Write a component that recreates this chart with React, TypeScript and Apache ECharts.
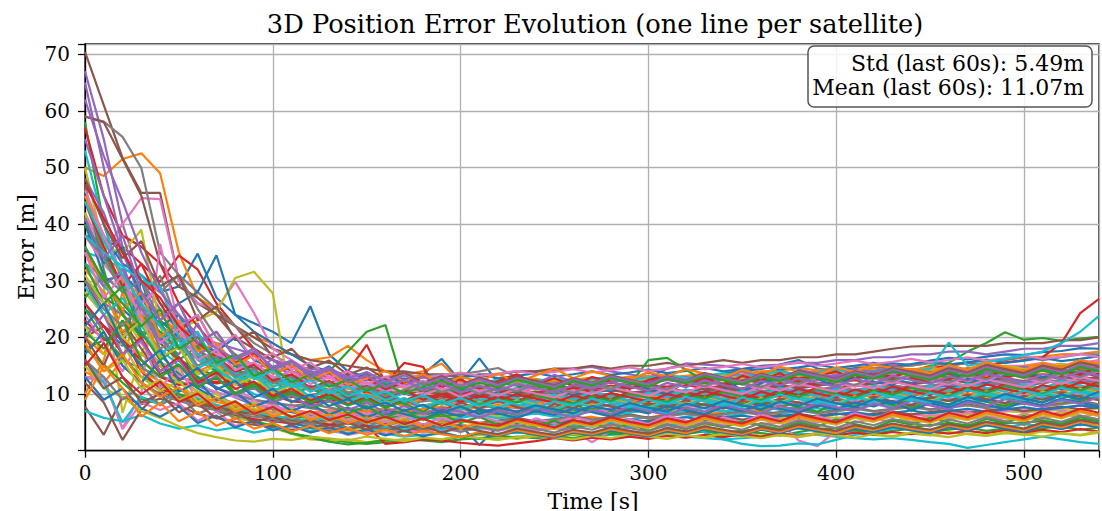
import React, { useEffect, useRef } from "react";
import * as echarts from "echarts";

const times = [0, 10, 20, 30, 40, 50, 60, 70, 80, 90, 100, 110, 120, 130, 140, 150, 160, 170, 180, 190, 200, 210, 220, 230, 240, 250, 260, 270, 280, 290, 300, 310, 320, 330, 340, 350, 360, 370, 380, 390, 400, 410, 420, 430, 440, 450, 460, 470, 480, 490, 500, 510, 520, 530, 540];

const sat00 = [45, 38, 33, 31, 28, 29, 34.8, 27, 24, 22.5, 21, 19, 25.5, 17, 14, 13, 12.5, 11.5, 13.5, 16.2, 12.2, 16.3, 12, 11.5, 11, 11.5, 12, 11.5, 12.1, 12.6, 12.2, 12.7, 13.1, 12.9, 13.6, 14.1, 14.4, 15.2, 16.0, 14.5, 14.1, 14.6, 15.1, 15.4, 15.1, 15.9, 16.4, 16.1, 16.6, 17.0, 16.9, 17.4, 17.6, 18.1, 18.0];
const sat01 = [50, 48.5, 51.5, 52.5, 49, 35, 27, 25, 22, 20, 19, 17, 16, 16.5, 18.5, 16, 14, 13.5, 14, 15.4, 12, 12.5, 12, 12.6, 12.1, 12.3, 12.7, 12.2, 12.6, 13.1, 12.6, 13.0, 13.2, 13.6, 13.1, 13.5, 14.0, 14.1, 14.6, 14.2, 14.6, 15.0, 14.6, 15.1, 15.0, 15.5, 15.2, 15.6, 16.0, 16.1, 16.5, 16.6, 17.0, 17.1, 17.5];
const sat02 = [58, 40, 30, 25, 22, 20, 17, 15, 14, 13, 12, 12.5, 13, 14, 17.5, 21, 22.2, 11, 10.5, 10, 9.5, 10, 9.5, 10, 10.5, 10.1, 10.6, 11, 10.5, 11.1, 11.5, 11.2, 11.6, 12, 11.6, 12.1, 12.5, 12.1, 12.6, 13, 13.1, 13.5, 13.2, 13.6, 14, 15, 15.5, 17.5, 19.0, 20.9, 19.6, 19.9, 19.4, 19.8, 20.1];
const sat03 = [38, 37, 36, 33, 29.8, 34.5, 32, 26, 22, 18, 16, 15, 14, 13, 14, 18.7, 12, 15.5, 14.8, 9.5, 10, 10.5, 11, 10.5, 11, 11.5, 11, 11.6, 12, 11.5, 12.1, 12.5, 12, 12.6, 13, 12.5, 13.1, 13.5, 13, 13.6, 14, 13.5, 14.1, 14.5, 14, 14.6, 15, 15.5, 15.1, 15.6, 16, 16.5, 19, 24.3, 26.8];
const sat04 = [67, 55, 40, 30, 25, 22, 20, 19, 18, 17, 16, 15, 14.5, 14, 13.5, 13, 13, 12.5, 13, 13, 13.5, 13, 13.5, 14, 14, 14.2, 14.5, 14.8, 14, 13.5, 12.8, 14.5, 15.4, 15.2, 15, 14.4, 15, 15.2, 15.5, 15.5, 16, 16, 16.5, 16.5, 17, 17, 17.5, 17.5, 17, 17.5, 18, 18, 18.5, 18.5, 19];
const sat05 = [70.4, 61, 51.7, 45.5, 45.5, 30, 26, 24, 22, 20, 18, 17, 16, 15.5, 15, 14.5, 14, 14, 13.5, 13.5, 13, 13.5, 13.5, 14, 14, 14.5, 14.5, 15, 14.5, 15, 15, 15.5, 15, 15.5, 16, 15.5, 16, 16, 16.5, 16.5, 17, 17, 17.5, 18, 18.4, 18.5, 18.5, 18.5, 18.5, 19, 19, 19, 19.5, 19.5, 20];
const sat06 = [42, 35, 40, 44.6, 44.4, 30, 26, 25, 29.8, 24.3, 18, 16, 14, 13, 12, 11.5, 11, 10.5, 11, 10.5, 11, 10.5, 10, 10.5, 11, 10.5, 10, 10.5, 11, 11.5, 11, 11.5, 12, 11.5, 12, 12.5, 12, 12.5, 13, 12.5, 13, 13.5, 13, 13.5, 14, 14, 14.5, 14, 14.5, 15, 15, 15.5, 15, 15.5, 16];
const sat07 = [59, 58.1, 55.4, 49.9, 35, 31, 28, 25, 22, 19, 17, 15, 14, 13.5, 13, 12.5, 13, 13.5, 13, 13.5, 13.5, 14, 14.6, 13, 12.5, 12, 12.5, 12, 12.5, 12, 12.5, 13, 12.5, 13, 13.5, 13, 13.5, 14, 13.5, 14, 14.5, 14, 14.5, 15, 15, 15.5, 15, 15.5, 16, 16, 16.5, 16, 16.5, 17, 17];
const sat08 = [35, 29, 6.7, 17, 25, 21.5, 23, 24.5, 30.5, 31.6, 27.8, 8, 4.5, 4, 3.8, 4, 3.5, 3.8, 4, 3.5, 3.8, 4, 4.2, 4, 4.5, 4.2, 4.5, 4.8, 4.5, 5, 4.8, 5, 5.2, 5, 5.5, 5.2, 5.5, 5.8, 5.5, 6, 5.8, 6, 6.2, 6, 6.5, 6.2, 6.5, 6.8, 6.5, 7, 6.8, 7, 7.2, 7, 7.5];
const sat09 = [35, 34, 32, 31, 26, 24, 16, 14, 12, 10, 9, 5, 4, 3.5, 3, 3.5, 3, 2.5, 2.8, 3, 2.5, 2.8, 3, 3.2, 3, 2.8, 3, 2.5, 2.8, 3, 3.2, 2.8, 2.5, 2.2, 2, 2.2, 2.5, 2.8, 3, 2.8, 2.5, 2.2, 2, 2.2, 1.9, 1.5, 1.2, 0.5, 1, 1.5, 2, 2.5, 2, 1.5, 1.2];
const sat10 = [30, 27, 25, 22, 24, 26, 28, 34.5, 24, 21, 19, 17, 15, 14, 13, 12.5, 12, 11.5, 11, 10.5, 11, 10.5, 11, 10.5, 10, 10.5, 10, 9.5, 10, 9.5, 10, 10.5, 10, 10.5, 11, 10.5, 11, 11.5, 11, 11.5, 12, 11.5, 12, 12.5, 12, 12.5, 13, 12.5, 13, 13.5, 13, 13.5, 14, 13.5, 14];
const sat11 = [14, 12, 16, 27, 22, 20, 17, 15, 13, 12, 11, 10.5, 11, 10, 9.5, 10, 9.5, 9, 9.5, 9, 8.5, 9, 8.5, 9, 9.5, 9, 9.5, 10, 9.5, 10, 10.5, 10, 10.5, 11, 10.5, 11, 11.5, 11, 11.5, 12, 12, 12.5, 12, 12.5, 13, 12.5, 13, 13.5, 13, 13.5, 14, 13.5, 14, 14.5, 14];
const sat12 = [47, 32, 20, 15, 12, 10, 9, 7, 6, 5, 4.5, 3, 2.5, 2, 1.5, 1.2, 1.5, 2, 1.8, 1.5, 2, 2.2, 2, 2.5, 2.2, 2.5, 2.8, 2.5, 3, 2.8, 3, 3.2, 3, 3.5, 3.2, 3.5, 3.8, 3.5, 4, 3.8, 4, 4.2, 4, 4.5, 4.2, 4.5, 4.8, 4.5, 5, 4.8, 5, 5.2, 5, 5.5, 5.2];
const sat13 = [57, 45, 38, 36, 33, 26, 22, 18, 15.5, 14, 13, 12, 12.5, 13, 12.5, 12, 11.5, 12, 11, 10.5, 10, 9.5, 10, 10.5, 10, 9.5, 9, 9.5, 9, 8.5, 9, 9.5, 9, 9.5, 10, 9.5, 10, 10.5, 10, 10.5, 11, 11.5, 12, 12.5, 13, 14.3, 13.5, 13.1, 13.5, 13, 13.5, 13, 13.5, 14, 13.5];
const sat14 = [65, 50, 36, 26, 20, 16, 13, 11, 10, 9, 8.5, 8, 7.5, 7, 7.5, 7, 6.5, 7, 6.5, 6, 6.5, 6, 6.5, 7, 6.5, 7, 7.5, 7, 7.5, 8, 7.5, 8, 8.5, 8, 8.5, 9, 8.5, 9, 9.5, 9, 9.5, 10, 9.5, 10, 10.5, 10, 10.5, 11, 10.5, 11, 11.5, 11, 11.5, 12, 12];
const sat15 = [59, 58, 51.5, 45, 33, 29, 27, 24, 20, 18, 16, 14, 13, 12, 11.5, 11, 10.5, 10, 10.5, 10, 9.5, 10, 9.5, 9, 9.5, 9, 9.5, 10, 9.5, 10, 10.5, 10, 10.5, 11, 10.5, 11, 11.5, 11, 11.5, 12, 12, 12.5, 12, 12.5, 13, 13, 13.5, 13, 13.5, 14, 14, 14.5, 14, 14.5, 15];
const sat16 = [13, 13, 4, 10, 36.5, 22, 18, 14, 11, 9, 8, 7, 6.5, 6, 5.5, 5, 5.5, 5, 4.5, 5, 4.5, 4, 4.5, 4, 3.5, 4, 3.5, 1.5, 3.5, 4, 4.5, 4, 4.5, 5, 4.5, 5, 4.5, 5, 5.5, 5, 5.5, 6, 5.5, 6, 6.5, 6, 6.5, 7, 6.5, 7, 7.5, 7, 7.5, 8, 8];
const sat17 = [44, 35, 28, 30, 28, 31, 25, 20, 17, 15, 13, 12, 11, 10.5, 10, 9.5, 9, 8.5, 8, 8.5, 8, 7.5, 8, 7.5, 8, 8.5, 8, 8.5, 9, 8.5, 9, 9.5, 9, 9.5, 10, 9.5, 10, 10.5, 10, 10.5, 11, 10.5, 11, 11.5, 11, 11.5, 12, 11.5, 12, 12.5, 12, 12.5, 13, 12.5, 13];
const sat18 = [50, 36, 35, 39, 22, 14, 10, 8, 6, 5, 4, 3, 2, 1.8, 2, 1.5, 1.8, 2, 2.2, 2, 2.5, 2.8, 2.4, 2.1, 2.6, 2.3, 2.9, 2.5, 2.2, 2.7, 2.4, 3.0, 2.6, 2.3, 2.8, 2.5, 3.1, 2.7, 2.4, 2.9, 2.6, 3.2, 2.8, 2.5, 3.0, 2.7, 3.3, 2.9, 2.6, 3.1, 2.8, 3.4, 3.0, 2.7, 3.2];
const sat19 = [53, 40, 30, 22, 18, 15, 12, 10, 8, 7, 6, 5.5, 5, 5.5, 5, 4.5, 4, 4.5, 4, 3.5, 4, 4.5, 4, 4.5, 5, 4.5, 5, 5.5, 5, 5.5, 6, 5.5, 6, 6.5, 6, 6.5, 7, 6.5, 7, 7.5, 7, 7.5, 8, 8.5, 8, 8.5, 9, 8.5, 9, 9.5, 9, 9.5, 10, 10.5, 10];
const sat20 = [25, 22, 18.5, 30, 20, 16.5, 13, 11.2, 9.4, 8.1, 7.3, 6.8, 6.1, 5.6, 6.4, 5.9, 6.3, 7.1, 6.5, 6.9, 7.4, 6.8, 7.2, 7.9, 7.3, 7.7, 8.4, 7.8, 8.1, 8.8, 8.2, 8.6, 9.3, 8.7, 9.1, 9.6, 9.2, 9.9, 9.4, 10.1, 10.5, 10.0, 10.6, 10.9, 10.4, 11.1, 11.5, 10.9, 11.6, 11.8, 11.3, 12.0, 12.4, 11.9, 12.6];
const sat21 = [10, 16, 28, 19, 15, 12.5, 10.4, 9.1, 8.5, 7.2, 6.1, 5.2, 4.6, 4.1, 3.6, 3.2, 3.7, 4.3, 3.4, 3.9, 4.6, 4.1, 4.9, 5.3, 4.7, 5.2, 5.6, 6.0, 5.4, 6.2, 5.8, 6.5, 7.0, 6.3, 6.9, 7.4, 7.0, 7.7, 7.3, 8.0, 8.4, 7.9, 8.6, 8.2, 8.9, 9.3, 8.8, 9.6, 9.2, 9.9, 10.3, 9.8, 10.5, 11.0, 10.6];
const sat22 = [18, 15.2, 12, 9.1, 8.3, 11, 9.2, 7.1, 6.3, 5.4, 4.2, 3.1, 2.3, 1.6, 1.1, 1.4, 1.9, 1.5, 2.2, 1.8, 2.5, 2.1, 2.7, 2.3, 3.0, 2.6, 2.2, 2.8, 3.3, 2.7, 3.1, 3.6, 3.0, 3.4, 2.9, 3.5, 3.1, 2.7, 3.3, 3.8, 3.2, 3.6, 3.0, 3.5, 3.9, 3.3, 3.7, 4.1, 3.5, 3.9, 3.4, 4.0, 4.3, 3.7, 4.1];
const sat23 = [20, 22, 19.5, 17, 15, 12.8, 12.3, 11.9, 12.5, 11.4, 10.2, 9.5, 9.8, 10.4, 11, 10.3, 9.7, 10.1, 9.2, 9.6, 8.9, 9.4, 10.1, 10.7, 10.2, 10.9, 11.3, 10.8, 11.5, 11.1, 11.7, 11.2, 11.9, 12.3, 11.8, 12.4, 12.1, 12.7, 13.0, 12.6, 13.2, 12.9, 13.5, 13.1, 13.8, 14.1, 13.7, 14.3, 14.0, 14.6, 14.2, 14.9, 15.3, 14.8, 15.4];
const sat24 = [30, 26, 24, 21, 20.5, 18.3, 16.4, 17.2, 15.1, 13.6, 12.2, 11.4, 10.8, 10.1, 9.5, 9.9, 9.3, 8.6, 9.1, 8.4, 8.9, 8.2, 8.7, 9.3, 8.8, 9.4, 9.0, 9.6, 9.1, 9.7, 10.2, 9.6, 10.1, 9.8, 10.4, 10.0, 10.6, 10.2, 10.8, 10.5, 11.0, 10.7, 11.3, 10.9, 11.5, 11.2, 11.7, 11.4, 12.0, 11.6, 12.2, 11.9, 12.5, 12.1, 12.7];
const sat25 = [7.8, 2.8, 9.5, 8.2, 9.2, 8, 6.5, 5.8, 5.1, 4.6, 4.2, 3.7, 4.1, 3.6, 3.9, 4.4, 4.0, 3.5, 3.8, 4.3, 3.9, 4.4, 4.8, 4.3, 4.7, 5.1, 4.6, 5.0, 5.4, 4.9, 5.3, 5.7, 5.2, 5.6, 6.0, 5.5, 5.9, 6.3, 5.8, 6.2, 6.6, 6.1, 6.5, 6.9, 6.4, 6.8, 7.2, 6.7, 7.1, 7.5, 7.0, 7.4, 7.8, 7.3, 7.7];
const sat26 = [12.8, 12.5, 3.8, 8.5, 7.2, 8.4, 5.3, 6.9, 4.4, 5.1, 3.6, 4.2, 3.3, 3.9, 2.8, 3.4, 3.0, 3.7, 3.2, 3.8, 3.4, 4.0, 3.5, 4.2, 3.7, 4.3, 3.9, 4.5, 4.0, 4.6, 4.2, 4.8, 4.3, 4.9, 4.5, 5.1, 4.6, 5.2, 1.8, 0.8, 3.4, 5.0, 5.6, 5.2, 5.8, 5.3, 5.9, 5.5, 6.1, 5.7, 6.3, 5.8, 6.4, 6.0, 6.6];
const sat27 = [22, 20, 16, 14.5, 13.2, 12.1, 11.4, 10.2, 9.6, 9.0, 8.4, 7.9, 8.3, 7.6, 7.1, 7.5, 6.9, 7.3, 6.8, 7.2, 6.6, 7.0, 7.4, 6.9, 7.3, 7.7, 7.2, 7.6, 8.0, 7.5, 7.9, 8.3, 7.8, 8.2, 8.6, 8.1, 8.5, 8.9, 8.4, 8.8, 9.2, 8.7, 9.1, 9.5, 9.0, 9.4, 9.8, 9.3, 9.7, 10.1, 9.6, 10.0, 10.4, 9.9, 10.3];
const sat28 = [42, 30, 24, 19, 15, 12, 10.5, 9.3, 8.1, 7.4, 6.8, 6.2, 5.9, 6.4, 5.7, 6.1, 5.5, 5.9, 6.3, 5.8, 6.2, 6.6, 6.0, 6.4, 6.8, 6.3, 6.7, 7.1, 6.5, 6.9, 7.3, 6.8, 7.2, 7.6, 7.0, 7.4, 7.8, 7.3, 7.7, 8.1, 7.5, 7.9, 8.3, 7.8, 8.2, 8.6, 8.0, 8.4, 8.8, 8.3, 8.7, 9.1, 8.5, 8.9, 9.3];
const sat29 = [7, 5.8, 5.2, 6.3, 4.8, 3.9, 4.5, 3.6, 4.1, 3.2, 3.8, 4.4, 3.5, 4.0, 3.1, 3.6, 4.2, 3.7, 4.3, 3.8, 4.4, 3.9, 4.5, 4.0, 4.6, 4.1, 4.7, 4.2, 4.8, 4.3, 4.9, 4.4, 5.0, 3.2, 2.0, 1.2, 0.8, 0.9, 1.3, 1.1, 1.9, 2.8, 3.3, 3.9, 4.1, 3.7, 4.3, 3.9, 4.5, 4.1, 4.7, 4.3, 4.9, 4.5, 5.1];
const sat30 = [40, 31, 24, 20.5, 17, 13.5, 11, 9.2, 7.6, 6.5, 5.4, 4.8, 4.2, 4.6, 4.0, 4.4, 3.8, 4.2, 4.7, 4.1, 4.5, 1.0, 4.3, 4.8, 4.4, 4.9, 5.3, 4.8, 5.2, 5.6, 5.1, 5.5, 5.9, 5.4, 5.8, 6.2, 5.7, 6.1, 6.5, 6.0, 6.4, 6.8, 6.3, 6.7, 7.1, 6.6, 7.0, 7.4, 6.9, 7.3, 7.7, 7.2, 7.6, 8.0, 7.5];
const sat31 = [45, 38, 30, 27.5, 24, 20.5, 18.6, 17.2, 15.9, 14.8, 13.9, 13.2, 12.8, 12.1, 12.6, 11.9, 12.3, 11.7, 12.2, 11.5, 11.9, 12.4, 11.8, 12.2, 12.7, 12.1, 12.5, 12.9, 12.4, 12.8, 13.2, 12.7, 13.1, 13.5, 13.0, 13.4, 13.8, 13.3, 13.7, 14.1, 13.6, 14.0, 14.4, 13.9, 14.3, 14.7, 14.2, 14.6, 15.0, 14.5, 14.9, 15.3, 14.8, 15.2, 15.6];
const sat32 = [25, 20, 16.5, 13, 11.5, 9.8, 8.7, 7.9, 7.2, 6.6, 6.1, 5.7, 6.2, 5.5, 5.9, 6.4, 5.8, 6.2, 6.7, 6.1, 6.5, 7.0, 6.4, 6.8, 7.3, 6.7, 7.1, 7.6, 7.0, 7.4, 7.9, 7.3, 7.7, 8.2, 7.6, 8.0, 8.5, 7.9, 8.3, 8.8, 8.2, 8.6, 9.1, 8.5, 8.9, 9.4, 8.8, 9.2, 9.7, 9.1, 9.5, 10.0, 9.4, 9.8, 10.3];
const sat33 = [23, 19.5, 20.5, 14, 11, 9.5, 8.2, 7.5, 6.4, 5.6, 5.2, 4.8, 5.3, 4.6, 5.0, 4.4, 1.2, 1.5, 2.0, 1.8, 1.4, 1.1, 0.9, 1.3, 1.7, 2.2, 1.8, 2.3, 2.0, 2.5, 2.1, 2.6, 2.3, 2.8, 2.4, 2.9, 2.5, 3.0, 2.6, 3.1, 2.7, 3.2, 2.8, 3.3, 2.9, 3.4, 3.0, 3.5, 3.1, 3.6, 3.2, 3.7, 3.3, 3.8, 3.4];
const sat34 = [48, 42, 33, 24, 19.5, 17, 22.5, 16, 13.5, 12, 10.5, 9.8, 9.1, 8.7, 8.2, 8.6, 8.0, 8.4, 7.9, 8.3, 7.7, 8.1, 8.6, 8.0, 8.5, 8.9, 8.4, 8.8, 9.2, 8.7, 9.1, 9.5, 9.0, 9.4, 9.8, 9.3, 9.7, 10.1, 9.6, 10.0, 10.4, 9.9, 10.3, 10.7, 10.2, 10.6, 11.0, 10.5, 10.9, 11.3, 10.8, 11.2, 11.6, 11.1, 11.5];
const sat35 = [12, 8.5, 1.9, 7.2, 10.5, 9.1, 8.3, 7.6, 6.9, 6.4, 5.8, 5.3, 4.9, 5.4, 4.8, 5.2, 4.7, 5.1, 4.6, 5.0, 5.5, 4.9, 5.3, 5.8, 5.2, 5.6, 6.1, 5.5, 5.9, 6.4, 5.8, 6.2, 6.7, 6.1, 6.5, 7.0, 6.4, 6.8, 7.3, 6.7, 7.1, 7.6, 7.0, 7.4, 7.9, 7.3, 7.7, 8.2, 7.6, 8.0, 8.5, 7.9, 8.3, 8.8, 8.2];
const sat36 = [28, 24, 21, 19, 15.5, 13.2, 11.6, 10.3, 9.5, 8.4, 7.6, 7.1, 6.5, 6.9, 6.2, 6.6, 6.1, 6.5, 6.0, 6.4, 6.8, 6.3, 6.7, 7.1, 6.6, 7.0, 7.4, 6.9, 7.3, 7.7, 7.2, 7.6, 8.0, 7.5, 7.9, 8.3, 7.8, 8.2, 8.6, 8.1, 8.5, 8.9, 8.4, 8.8, 9.2, 8.7, 9.1, 9.5, 9.0, 9.4, 9.8, 9.3, 9.7, 10.1, 9.6];
const sat37 = [33, 30.9, 28, 27, 30.9, 22, 18, 15.5, 13.4, 11.8, 10.6, 9.9, 9.2, 8.7, 9.1, 8.5, 8.9, 8.3, 8.7, 9.2, 8.6, 9.0, 9.5, 8.9, 9.3, 9.8, 9.2, 9.6, 10.1, 9.5, 9.9, 10.4, 9.8, 10.2, 10.7, 10.1, 10.5, 11.0, 10.4, 10.8, 11.3, 10.7, 11.1, 11.6, 11.0, 11.4, 11.9, 11.3, 11.7, 12.2, 11.6, 12.0, 12.5, 11.9, 12.3];
const sat38 = [15, 11, 9.5, 7, 5.8, 4.3, 3.1, 2.4, 1.8, 1.6, 2.1, 1.9, 2.4, 2.2, 1.8, 2.5, 2.1, 1.7, 2.3, 2.0, 2.6, 2.2, 1.9, 2.4, 2.8, 2.3, 2.0, 2.6, 2.2, 2.9, 2.5, 2.1, 2.7, 2.4, 3.0, 2.6, 2.2, 2.8, 2.5, 3.1, 2.7, 2.3, 2.9, 2.6, 3.2, 2.8, 2.4, 3.0, 2.7, 3.3, 2.9, 2.5, 3.1, 2.8, 3.4];
const sat39 = [16, 12, 5, 9.5, 8.2, 10.8, 9.3, 8.1, 7.4, 6.8, 6.2, 5.7, 5.3, 5.8, 5.2, 5.6, 5.1, 5.5, 6.0, 5.4, 5.8, 6.3, 5.7, 6.1, 6.6, 6.0, 6.4, 6.9, 6.3, 6.7, 7.2, 6.6, 7.0, 7.5, 6.9, 7.3, 7.8, 7.2, 7.6, 8.1, 7.5, 7.9, 8.4, 7.8, 8.2, 8.7, 8.1, 8.5, 9.0, 8.4, 8.8, 9.3, 8.7, 9.1, 9.6];
const sat40 = [36, 30, 31, 28, 23, 20, 18.5, 16.7, 15.2, 14.6, 13.9, 13.1, 12.5, 13.0, 12.4, 12.8, 12.2, 12.6, 13.1, 12.5, 12.9, 13.4, 12.8, 13.2, 13.7, 13.1, 13.5, 14.0, 13.4, 13.8, 14.3, 13.7, 14.1, 14.6, 14.0, 14.4, 14.9, 14.3, 14.7, 15.2, 14.6, 15.0, 15.5, 14.9, 15.3, 15.8, 15.2, 15.6, 16.1, 15.5, 15.9, 16.4, 15.8, 16.2, 16.7];
const sat41 = [20, 17, 25, 14, 12.2, 10.9, 9.8, 8.6, 7.9, 7.1, 6.8, 7.3, 6.7, 7.2, 6.5, 7.0, 7.5, 6.9, 7.4, 7.8, 7.2, 7.7, 8.1, 7.6, 8.0, 8.4, 7.9, 8.3, 8.7, 8.2, 8.6, 9.0, 8.5, 8.9, 9.3, 8.8, 9.2, 9.6, 9.1, 9.5, 9.9, 9.4, 9.8, 10.2, 9.7, 10.1, 10.5, 10.0, 10.4, 10.8, 10.3, 10.7, 11.1, 10.6, 11.0];
const sat42 = [40, 35, 29, 24, 21, 18, 16.5, 15.2, 14.3, 13.4, 12.5, 11.8, 11.2, 10.6, 10.2, 10.7, 10.1, 10.5, 10.9, 10.3, 10.7, 11.1, 10.6, 11.0, 11.4, 10.9, 11.3, 11.7, 11.2, 11.6, 16.0, 16.4, 14.3, 12.3, 11.8, 12.2, 12.6, 12.1, 12.5, 12.9, 12.4, 12.8, 13.2, 12.7, 13.1, 13.5, 13.0, 13.4, 13.8, 13.3, 13.7, 14.1, 13.6, 14.0, 14.4];
const sat43 = [30, 24, 19, 16, 13, 11.6, 12.0, 12.2, 11.8, 11.0, 9.8, 8.7, 8.5, 8.8, 9.3, 9.0, 9.6, 10.1, 9.5, 9.9, 10.4, 9.8, 10.3, 10.7, 10.1, 10.6, 11.0, 10.4, 10.9, 11.3, 10.7, 11.2, 11.6, 11.0, 11.5, 11.9, 11.3, 11.8, 12.2, 11.6, 12.1, 12.5, 11.9, 12.4, 12.8, 12.2, 12.7, 13.1, 12.5, 13.0, 13.4, 12.8, 13.3, 13.7, 13.1];
const sat44 = [55, 45, 35, 27, 22, 19.5, 17, 15.5, 14.1, 13.3, 12.6, 11.9, 11.4, 10.8, 11.3, 10.6, 11.0, 11.5, 10.9, 11.3, 11.8, 11.2, 11.6, 12.1, 11.5, 11.9, 12.4, 11.8, 12.2, 12.7, 12.1, 12.5, 13.0, 12.4, 12.8, 13.3, 12.7, 13.1, 13.6, 13.0, 13.4, 13.9, 13.3, 13.7, 14.2, 13.6, 14.0, 14.5, 13.9, 14.3, 14.8, 14.2, 14.6, 15.1, 14.5];
const sat45 = [18, 19.5, 21, 23, 19, 16, 14.5, 13.2, 12.1, 11.4, 10.8, 10.2, 9.7, 9.2, 9.6, 9.1, 9.5, 9.0, 9.4, 9.8, 9.3, 9.7, 10.1, 9.6, 10.0, 10.4, 9.9, 10.3, 10.7, 10.2, 10.6, 11.0, 10.5, 10.9, 11.3, 10.8, 11.2, 11.6, 11.1, 11.5, 11.9, 11.4, 11.8, 12.2, 11.7, 12.1, 12.5, 12.0, 12.4, 12.8, 12.3, 12.7, 13.1, 12.6, 13.0];
const sat46 = [38, 33, 29, 24, 25, 21, 18.5, 17, 16.1, 15.3, 14.5, 13.8, 13.2, 12.7, 13.2, 12.6, 13.0, 13.5, 12.9, 13.3, 13.8, 13.2, 13.6, 14.1, 13.5, 13.9, 14.4, 13.8, 14.2, 14.7, 14.1, 14.5, 15.0, 14.4, 14.8, 15.3, 14.7, 15.1, 15.6, 15.0, 15.4, 15.9, 15.3, 15.7, 16.2, 15.6, 16.0, 16.5, 15.9, 16.3, 16.8, 16.2, 16.6, 17.1, 16.5];
const sat47 = [26, 21, 15, 12, 10, 8.8, 7.9, 7.1, 6.5, 6.0, 5.6, 5.1, 4.8, 5.2, 4.7, 5.1, 4.6, 5.0, 4.5, 4.9, 5.3, 4.8, 5.2, 5.6, 5.1, 5.5, 5.9, 5.4, 5.8, 6.2, 5.7, 6.1, 6.5, 6.0, 6.4, 6.8, 6.3, 6.7, 7.1, 6.6, 7.0, 7.4, 6.9, 7.3, 7.7, 7.2, 7.6, 8.0, 7.5, 7.9, 8.3, 7.8, 8.2, 8.6, 8.1];
const sat48 = [28, 24, 20, 17, 15.5, 14.6, 13.8, 13.1, 12.5, 12.0, 11.6, 11.2, 10.9, 11.4, 10.8, 11.2, 11.7, 11.1, 11.5, 12.0, 11.4, 11.8, 12.3, 11.7, 12.1, 12.6, 12.0, 12.4, 12.9, 12.3, 12.7, 13.2, 12.6, 13.0, 13.5, 12.9, 13.3, 13.8, 13.2, 13.6, 14.1, 13.5, 13.9, 14.4, 13.8, 14.2, 14.7, 14.1, 14.5, 15.0, 14.4, 14.8, 15.3, 14.7, 15.1];
const sat49 = [33, 29, 26, 23, 20.5, 18, 16.2, 14.8, 13.7, 12.9, 12.2, 11.6, 11.1, 11.6, 11.0, 11.4, 11.9, 11.3, 11.7, 12.2, 11.6, 12.0, 12.5, 11.9, 12.3, 12.8, 12.2, 12.6, 13.1, 12.5, 12.9, 13.4, 12.8, 13.2, 13.7, 13.1, 13.5, 14.0, 13.4, 13.8, 14.3, 13.7, 14.1, 14.6, 14.0, 14.4, 19.1, 15.0, 15.6, 16.2, 16.9, 17.5, 19.0, 21.0, 23.8];
const sat50 = [41, 33, 36, 27, 22, 24, 19, 17.5, 20, 16, 14.5, 15.8, 13.2, 14.9, 12.1, 13.6, 11.4, 12.8, 10.7, 12.3, 11.1, 9.8, 11.6, 10.2, 12.4, 10.9, 9.7, 11.8, 10.5, 12.1, 11.0, 9.9, 12.3, 11.2, 12.8, 10.6, 11.9, 13.1, 11.5, 12.7, 11.3, 13.4, 12.2, 11.6, 13.5, 12.4, 13.9, 12.8, 11.9, 13.6, 14.2, 12.9, 14.4, 13.3, 14.8];
const sat51 = [32, 28, 21, 24, 17, 19.5, 14, 15.5, 12, 13.8, 10.5, 11.9, 9.4, 10.8, 8.7, 10.1, 9.0, 7.8, 9.3, 8.1, 9.6, 8.4, 7.5, 9.0, 8.2, 9.7, 8.6, 7.9, 9.4, 8.3, 9.9, 8.8, 10.2, 9.1, 8.4, 10.0, 9.3, 10.7, 9.5, 8.9, 10.4, 9.8, 11.2, 10.1, 9.6, 11.0, 10.3, 11.6, 10.5, 9.9, 11.4, 10.8, 12.0, 11.1, 10.6];
const sat52 = [27, 31, 24, 20, 23, 16, 18.5, 13.5, 15, 11.2, 12.6, 9.8, 11.3, 8.9, 10.2, 7.6, 9.1, 8.3, 6.9, 8.6, 7.4, 8.8, 7.1, 6.3, 7.9, 6.8, 8.2, 7.0, 6.1, 7.7, 6.6, 8.0, 7.2, 6.5, 7.8, 8.4, 7.1, 8.7, 7.6, 6.9, 8.3, 7.8, 9.0, 8.1, 7.4, 8.9, 8.2, 9.4, 8.6, 7.9, 9.2, 8.5, 9.8, 8.9, 9.4];
const sat53 = [44, 36, 29, 33, 26, 21, 24, 18, 15.5, 17.2, 13.6, 14.9, 12.4, 13.8, 11.5, 12.9, 10.8, 12.1, 13.4, 11.2, 12.6, 10.9, 12.3, 13.5, 11.7, 12.8, 11.4, 13.0, 12.2, 10.9, 12.5, 13.3, 11.8, 12.9, 11.6, 13.2, 12.4, 13.7, 12.0, 13.1, 14.0, 12.6, 13.8, 12.9, 14.3, 13.2, 14.6, 13.5, 12.8, 14.4, 13.7, 15.0, 14.1, 13.4, 14.9];
const sat54 = [36, 29, 32, 25, 20, 22.5, 17, 18.8, 15.4, 13.9, 16.2, 12.8, 14.1, 11.9, 13.3, 10.8, 12.5, 11.4, 13.0, 11.8, 10.9, 12.6, 11.3, 12.9, 11.7, 13.4, 12.1, 11.2, 13.1, 12.4, 13.8, 12.6, 11.9, 13.5, 12.7, 14.0, 13.2, 12.5, 14.3, 13.6, 12.9, 14.5, 13.8, 15.1, 14.0, 13.3, 14.8, 14.2, 15.4, 14.6, 13.9, 15.3, 14.7, 16.0, 15.2];
const sat55 = [20, 15, 23, 18, 13.5, 15.2, 11.4, 12.9, 10.1, 11.6, 9.3, 10.5, 8.7, 9.9, 8.1, 9.4, 7.6, 8.9, 7.9, 7.1, 8.5, 7.4, 8.8, 7.7, 6.9, 8.2, 7.5, 8.7, 7.8, 7.0, 8.4, 7.6, 8.9, 8.1, 7.4, 8.8, 8.0, 9.2, 8.5, 7.7, 9.0, 8.3, 9.5, 8.7, 8.0, 9.4, 8.8, 9.9, 9.1, 8.4, 9.7, 9.0, 10.2, 9.5, 8.9];
const sat56 = [24, 19, 14, 20, 11, 15, 8.5, 10.5, 7.2, 9.0, 6.4, 7.8, 5.9, 7.1, 5.3, 6.6, 5.0, 6.2, 4.6, 5.8, 4.9, 6.1, 5.2, 4.4, 5.7, 4.8, 6.0, 5.1, 4.3, 5.6, 4.7, 6.2, 5.3, 4.6, 5.9, 5.0, 6.4, 5.4, 4.8, 6.1, 5.2, 6.6, 5.7, 6.9, 5.0, 6.3, 5.5, 6.8, 5.9, 5.2, 6.6, 5.8, 7.0, 6.2, 5.5];
const sat57 = [38, 34, 28, 30, 23, 26, 19, 21, 16.5, 18, 14.2, 15.6, 13.1, 14.4, 12.0, 13.3, 11.2, 12.5, 10.6, 11.9, 10.2, 11.5, 9.8, 11.0, 9.5, 10.7, 9.1, 10.4, 9.7, 8.9, 10.3, 9.4, 10.8, 9.6, 8.8, 10.1, 9.3, 10.6, 9.8, 9.0, 10.5, 9.7, 11.0, 10.2, 9.5, 10.9, 10.1, 11.3, 10.6, 9.9, 11.2, 10.4, 11.7, 10.9, 10.3];
const sat58 = [22, 17, 19, 13, 10.5, 12.4, 8.6, 10.1, 7.3, 8.5, 6.2, 7.4, 5.5, 6.7, 4.9, 6.0, 4.5, 5.6, 4.2, 5.1, 3.9, 4.8, 4.3, 3.7, 4.9, 4.1, 5.3, 4.5, 3.9, 5.0, 4.4, 5.6, 4.8, 4.2, 5.4, 4.7, 5.9, 5.1, 4.5, 5.7, 5.0, 6.1, 5.4, 6.5, 4.8, 6.0, 5.3, 6.4, 5.7, 5.1, 6.3, 5.6, 6.7, 6.0, 5.4];
const sat59 = [29, 24, 27, 21, 17, 19.5, 14.5, 16.3, 12.8, 14.0, 11.3, 12.6, 10.4, 11.7, 9.6, 10.9, 8.9, 10.2, 9.3, 8.4, 9.8, 8.8, 10.1, 9.2, 8.5, 9.9, 9.0, 10.4, 9.6, 8.8, 10.2, 9.5, 10.8, 9.9, 9.1, 10.6, 9.8, 11.1, 10.3, 9.6, 10.9, 10.2, 11.5, 10.7, 10.0, 11.4, 10.6, 11.9, 11.1, 10.4, 11.8, 11.0, 12.3, 11.5, 10.9];
const sat60 = [17, 21, 15, 12, 16, 10.4, 12.2, 8.9, 10.3, 7.8, 9.1, 7.0, 8.3, 6.4, 7.6, 5.9, 7.2, 6.5, 5.6, 6.9, 6.1, 7.3, 6.6, 5.8, 7.0, 6.3, 7.5, 6.8, 6.0, 7.3, 6.6, 7.9, 7.1, 6.4, 7.7, 7.0, 8.2, 7.4, 6.7, 8.0, 7.3, 8.5, 7.8, 8.8, 7.1, 8.4, 7.6, 8.9, 8.1, 7.4, 8.7, 8.0, 9.2, 8.5, 7.8];
const sat61 = [35, 30, 25, 28, 20, 23, 17.5, 19, 15.2, 16.8, 13.6, 15.0, 12.4, 13.9, 11.6, 12.8, 14.1, 12.2, 13.5, 11.8, 13.0, 12.3, 13.6, 12.0, 13.3, 14.5, 12.8, 14.0, 13.2, 12.5, 13.9, 13.1, 14.4, 13.6, 12.9, 14.3, 13.5, 14.8, 14.0, 13.3, 14.7, 13.9, 15.2, 14.6, 14.4, 13.7, 15.1, 14.3, 15.6, 14.8, 14.1, 15.5, 14.7, 16.0, 15.3];
const sat62 = [33, 26, 29, 21, 16, 18.5, 12.5, 14.3, 10.1, 11.8, 8.6, 9.9, 7.5, 8.8, 6.6, 7.9, 5.9, 7.2, 5.4, 6.5, 4.9, 6.0, 4.5, 5.6, 4.2, 5.3, 3.9, 5.0, 3.7, 4.8, 3.5, 4.6, 3.8, 4.9, 4.1, 5.2, 4.4, 3.8, 5.0, 4.3, 5.5, 4.7, 4.0, 5.3, 4.6, 5.8, 5.0, 4.3, 5.6, 4.9, 6.1, 5.3, 4.7, 5.9, 5.2];
const sat63 = [26, 22, 17, 20, 14, 16.5, 12, 13.8, 10.9, 12.2, 9.6, 11.0, 8.8, 10.1, 8.2, 9.5, 7.7, 8.9, 10.0, 8.5, 9.7, 8.3, 9.6, 8.7, 10.2, 9.1, 8.4, 9.9, 9.0, 10.5, 9.4, 8.8, 10.3, 9.5, 10.8, 9.9, 9.2, 10.7, 9.8, 11.2, 10.3, 9.6, 11.0, 10.2, 11.5, 10.6, 9.9, 11.3, 10.5, 11.8, 11.0, 10.3, 11.7, 10.9, 12.2];
const sat64 = [20, 24, 17, 19.5, 14, 16, 11.5, 13.2, 9.8, 11.1, 8.5, 9.7, 7.8, 8.9, 7.2, 8.4, 6.8, 7.9, 6.5, 7.6, 6.9, 5.8, 7.1, 6.4, 7.5, 6.7, 5.9, 7.2, 6.5, 7.8, 7.0, 6.3, 7.6, 6.9, 8.1, 7.3, 6.6, 7.9, 7.2, 8.4, 7.7, 7.0, 8.3, 7.5, 8.8, 8.0, 7.3, 8.6, 7.9, 9.1, 8.4, 7.7, 9.0, 8.3, 9.5];
const sat65 = [48, 40, 34, 37, 29, 31, 23, 25.5, 19.5, 21, 16.5, 18.0, 14.6, 15.9, 13.4, 14.7, 12.6, 13.8, 12.0, 13.2, 11.6, 12.9, 11.9, 13.1, 12.3, 11.5, 12.8, 12.0, 13.3, 12.5, 11.8, 13.1, 12.4, 13.7, 12.9, 12.2, 13.6, 12.8, 14.1, 13.4, 12.7, 14.0, 13.3, 14.6, 13.9, 13.2, 14.5, 13.8, 15.1, 14.4, 13.7, 15.0, 14.3, 15.6, 14.9];
const sat66 = [46, 38, 31, 26, 29, 22, 24, 18, 20.5, 16, 17.2, 14.3, 15.6, 12.9, 14.0, 11.8, 13.1, 11.2, 12.4, 10.7, 11.9, 10.3, 11.6, 10.6, 12.0, 11.1, 10.2, 11.7, 10.8, 12.2, 11.3, 10.5, 12.0, 11.2, 12.6, 11.7, 10.9, 12.4, 11.5, 12.9, 12.0, 11.3, 12.8, 11.9, 13.3, 12.4, 11.7, 13.1, 12.3, 13.7, 12.8, 12.1, 13.6, 12.7, 14.1];
const sat67 = [16, 13, 9, 11.5, 8, 9.8, 6.5, 7.9, 5.6, 6.8, 4.9, 6.0, 4.4, 5.5, 4.0, 5.1, 3.7, 4.8, 3.5, 4.4, 3.3, 4.2, 3.6, 4.5, 3.9, 3.2, 4.3, 3.7, 4.7, 4.0, 3.4, 4.6, 3.9, 5.0, 4.3, 3.7, 4.9, 4.2, 5.3, 4.6, 4.0, 5.2, 4.5, 5.6, 4.9, 4.3, 5.5, 4.8, 5.9, 5.2, 4.6, 5.8, 5.1, 6.2, 5.5];
const sat68 = [31, 26, 20, 23, 16.5, 18.2, 13.4, 15.1, 11.6, 13.0, 10.2, 11.5, 9.4, 10.6, 8.7, 9.9, 8.2, 9.3, 7.8, 8.9, 7.4, 8.6, 7.7, 8.9, 8.1, 7.3, 8.6, 7.8, 9.0, 8.3, 7.6, 8.9, 8.2, 9.4, 8.6, 7.9, 9.3, 8.5, 9.7, 9.0, 8.3, 9.6, 8.9, 10.1, 9.4, 8.7, 10.0, 9.3, 10.5, 9.8, 9.1, 10.4, 9.7, 10.9, 10.2];
const sat69 = [38, 35, 32.5, 30, 29, 20.1, 17, 14.5, 12.2, 13.4, 10.6, 11.8, 9.5, 10.7, 8.8, 9.9, 8.2, 9.3, 7.7, 8.8, 7.3, 8.4, 7.6, 8.7, 7.9, 7.2, 8.5, 7.7, 8.9, 8.1, 7.4, 8.8, 8.0, 9.2, 8.4, 7.7, 9.1, 8.3, 9.5, 8.8, 8.1, 9.4, 8.7, 9.9, 9.2, 8.5, 9.8, 9.1, 10.3, 9.6, 8.9, 10.2, 9.5, 10.7, 10.0];
const sat70 = [13, 9, 11, 7.5, 6, 7.8, 4.9, 6.2, 4.1, 5.3, 3.6, 4.5, 3.2, 4.1, 2.9, 3.8, 2.7, 3.5, 2.5, 3.3, 2.4, 3.1, 2.6, 3.4, 2.8, 2.3, 3.2, 2.7, 3.6, 3.0, 2.5, 3.4, 2.9, 3.8, 3.2, 2.7, 3.7, 3.1, 4.0, 3.4, 2.9, 3.9, 3.3, 4.2, 3.6, 3.1, 4.1, 3.5, 4.5, 3.9, 3.3, 4.4, 3.8, 4.7, 4.1];
const sat71 = [9, 15, 11, 6, 8.5, 5.2, 6.9, 4.4, 5.8, 3.9, 4.9, 3.4, 4.4, 3.1, 4.0, 2.8, 3.7, 2.6, 3.5, 2.9, 2.4, 3.3, 2.7, 3.6, 3.0, 2.5, 3.4, 2.9, 3.8, 3.2, 2.7, 3.7, 3.1, 4.0, 3.4, 2.9, 3.9, 3.3, 4.3, 3.7, 3.1, 4.2, 3.6, 4.5, 3.9, 3.4, 4.4, 3.8, 4.8, 4.2, 3.6, 4.7, 4.1, 5.1, 4.4];
const sat72 = [21, 18, 23, 16, 13, 15.2, 11.3, 12.9, 10.0, 11.4, 9.1, 10.3, 8.5, 9.6, 8.0, 9.1, 7.6, 8.7, 9.8, 8.3, 9.4, 8.1, 9.2, 8.5, 9.8, 9.0, 8.3, 9.6, 8.8, 10.1, 9.3, 8.6, 10.0, 9.2, 10.4, 9.6, 8.9, 10.3, 9.5, 10.8, 10.0, 9.3, 10.7, 9.9, 11.1, 10.3, 9.6, 11.0, 10.2, 11.5, 10.7, 10.0, 11.4, 10.6, 11.9];
const sat73 = [47, 41, 35, 30, 27, 22, 19, 16.5, 14, 15.2, 12.3, 13.5, 11.1, 12.3, 10.2, 11.4, 9.5, 10.7, 9.0, 10.1, 8.6, 9.8, 8.9, 10.0, 9.2, 8.5, 9.7, 9.0, 10.2, 9.4, 8.7, 10.0, 9.3, 10.5, 9.7, 9.0, 10.4, 9.6, 10.9, 10.1, 9.4, 10.8, 10.0, 11.3, 10.5, 9.8, 11.2, 10.4, 11.7, 10.9, 10.2, 11.6, 10.8, 12.1, 11.3];
const sat74 = [62, 52, 44, 35, 28, 24, 20.5, 18, 16.2, 17.5, 14.8, 15.9, 13.6, 14.7, 12.8, 13.9, 12.2, 13.3, 11.7, 12.9, 11.4, 12.6, 11.6, 12.8, 12.0, 11.3, 12.6, 11.9, 13.1, 12.4, 11.7, 13.0, 12.3, 13.5, 12.8, 12.1, 13.4, 12.7, 13.9, 13.2, 12.5, 13.8, 13.1, 14.3, 13.6, 12.9, 14.2, 13.5, 14.7, 14.0, 13.3, 14.6, 13.9, 15.1, 14.4];
const sat75 = [16, 11, 13, 8.5, 10, 6.8, 8.3, 5.7, 7.0, 4.9, 6.1, 4.5, 5.5, 4.0, 5.0, 3.7, 4.7, 3.4, 4.4, 3.2, 4.2, 3.5, 2.9, 3.9, 3.3, 2.8, 3.7, 3.2, 4.1, 3.5, 3.0, 4.0, 3.4, 4.3, 3.7, 3.2, 4.2, 3.6, 4.6, 4.0, 3.5, 4.5, 3.9, 4.8, 4.2, 3.7, 4.7, 4.1, 5.1, 4.5, 3.9, 5.0, 4.4, 5.4, 4.8];
const sat76 = [35, 27, 31, 23, 19, 21.5, 16, 17.8, 14.2, 15.6, 12.9, 14.0, 11.8, 13.0, 11.0, 12.1, 10.4, 11.5, 9.9, 11.0, 9.5, 10.6, 9.7, 10.9, 10.1, 9.4, 10.7, 10.0, 11.2, 10.4, 9.7, 11.0, 10.3, 11.5, 10.7, 10.0, 11.4, 10.6, 11.8, 11.1, 10.4, 11.7, 11.0, 12.2, 11.5, 10.8, 12.1, 11.4, 12.6, 11.9, 11.2, 12.5, 11.8, 13.0, 12.3];
const sat77 = [30, 25, 22, 26, 18, 20, 15, 16.6, 13.1, 14.5, 11.9, 13.0, 10.9, 12.0, 10.2, 11.2, 9.6, 10.7, 12.1, 10.3, 11.5, 10.0, 11.3, 10.5, 11.8, 11.0, 10.2, 11.6, 10.9, 12.3, 11.5, 10.8, 12.2, 11.4, 12.7, 11.9, 11.2, 12.6, 11.8, 13.1, 12.3, 11.6, 13.0, 12.2, 13.5, 12.7, 12.0, 13.4, 12.6, 13.9, 13.1, 12.4, 13.8, 13.0, 14.3];
const sat78 = [19, 14, 16, 11, 12.5, 8.9, 10.4, 7.5, 8.8, 6.4, 7.6, 5.8, 6.9, 5.2, 6.3, 4.8, 5.9, 4.5, 5.6, 4.3, 5.3, 4.6, 4.0, 5.1, 4.4, 3.8, 4.9, 4.3, 5.3, 4.6, 4.0, 5.2, 4.5, 5.6, 4.9, 4.3, 5.5, 4.8, 5.9, 5.2, 4.6, 5.8, 5.1, 6.2, 5.5, 4.9, 6.1, 5.4, 6.5, 5.8, 5.2, 6.4, 5.7, 6.8, 6.1];
const sat79 = [44, 37, 31, 26, 22, 18.5, 21, 15, 17, 12.6, 14.1, 11.2, 12.5, 10.1, 11.4, 9.3, 10.5, 8.7, 9.8, 8.2, 9.3, 7.9, 9.0, 8.2, 7.5, 8.7, 8.0, 9.2, 8.4, 7.7, 9.0, 8.3, 9.5, 8.7, 8.0, 9.4, 8.6, 9.9, 9.1, 8.4, 9.8, 9.0, 10.3, 9.5, 8.8, 10.2, 9.4, 10.7, 9.9, 9.2, 10.6, 9.8, 11.1, 10.3, 9.6];
const sat80 = [22, 26, 19, 15, 17.8, 12.4, 14.6, 10.8, 12.3, 9.4, 10.9, 8.6, 9.9, 7.9, 9.1, 7.4, 8.5, 7.0, 8.1, 6.7, 7.8, 6.5, 7.6, 6.9, 8.0, 7.3, 6.6, 7.9, 7.2, 8.4, 7.6, 6.9, 8.3, 7.5, 8.8, 8.0, 7.3, 8.7, 7.9, 9.2, 8.4, 7.7, 9.1, 8.3, 9.6, 8.8, 8.1, 9.5, 8.7, 10.0, 9.2, 8.5, 9.9, 9.1, 10.4];
const sat81 = [19, 14, 17, 12, 9.5, 11.2, 8.0, 9.4, 6.9, 8.1, 6.0, 7.1, 5.4, 6.4, 4.9, 5.9, 4.5, 5.5, 4.2, 5.2, 4.0, 4.9, 4.3, 5.3, 4.6, 4.0, 5.1, 4.5, 5.5, 4.8, 4.2, 5.4, 4.7, 5.8, 5.1, 4.5, 5.7, 5.0, 6.1, 5.4, 4.8, 6.0, 5.3, 6.4, 5.7, 5.1, 6.3, 5.6, 6.7, 6.0, 5.4, 6.6, 5.9, 7.0, 6.3];
const sat82 = [36, 30, 26, 22, 25, 18, 20, 15.5, 17, 13.2, 14.6, 12.1, 13.4, 11.3, 12.5, 10.6, 11.8, 10.1, 11.3, 12.4, 10.9, 12.0, 11.2, 12.5, 11.7, 10.9, 12.3, 11.5, 12.8, 12.0, 11.3, 12.7, 11.9, 13.2, 12.4, 11.7, 13.1, 12.3, 13.6, 12.8, 12.1, 13.5, 12.7, 14.0, 13.2, 12.5, 13.9, 13.1, 14.4, 13.6, 12.9, 14.3, 13.5, 14.8, 14.0];
const sat83 = [15, 19, 13, 10, 12.2, 8.6, 10.1, 7.4, 8.7, 6.5, 7.7, 5.9, 7.0, 5.4, 6.4, 5.0, 6.0, 4.7, 5.7, 4.4, 5.4, 4.8, 4.4, 5.6, 4.9, 4.1, 5.4, 4.7, 5.9, 5.1, 4.5, 5.7, 5.0, 6.2, 5.4, 4.8, 6.0, 5.2, 6.5, 5.7, 5.0, 6.3, 5.6, 6.8, 6.1, 5.3, 6.7, 5.9, 7.1, 6.4, 5.7, 7.0, 6.2, 7.4, 6.7];
const sat84 = [41, 34, 38, 28, 23, 26, 19, 21, 16.4, 18, 14.3, 15.7, 13.0, 14.4, 12.1, 13.3, 11.3, 12.5, 10.7, 11.9, 10.3, 11.5, 10.6, 11.8, 11.0, 10.3, 11.6, 10.9, 12.1, 11.3, 10.6, 12.0, 11.2, 12.4, 11.6, 10.9, 12.3, 11.5, 12.8, 12.0, 11.3, 12.7, 11.9, 13.2, 12.5, 11.8, 13.1, 12.3, 13.6, 12.8, 12.1, 13.5, 12.7, 14.0, 13.2];

const satellites = [
  sat00, sat01, sat02, sat03, sat04, sat05, sat06, sat07, sat08, sat09,
  sat10, sat11, sat12, sat13, sat14, sat15, sat16, sat17, sat18, sat19,
  sat20, sat21, sat22, sat23, sat24, sat25, sat26, sat27, sat28, sat29,
  sat30, sat31, sat32, sat33, sat34, sat35, sat36, sat37, sat38, sat39,
  sat40, sat41, sat42, sat43, sat44, sat45, sat46, sat47, sat48, sat49,
  sat50, sat51, sat52, sat53, sat54, sat55, sat56, sat57, sat58, sat59,
  sat60, sat61, sat62, sat63, sat64, sat65, sat66, sat67, sat68, sat69,
  sat70, sat71, sat72, sat73, sat74, sat75, sat76, sat77, sat78, sat79,
  sat80, sat81, sat82, sat83, sat84,
];

const palette = ["#1f77b4", "#ff7f0e", "#2ca02c", "#d62728", "#9467bd", "#8c564b", "#e377c2", "#7f7f7f", "#bcbd22", "#17becf"];

const titleText = "3D Position Error Evolution (one line per satellite)";
const xName = "Time [s]";
const yName = "Error [m]";
const statLines = ["Std (last 60s): 5.49m", "Mean (last 60s): 11.07m"];

const FONT = "DejaVu Serif";

export default function App() {
  const ref = useRef<HTMLDivElement>(null);
  useEffect(() => {
    const chart = echarts.init(ref.current as HTMLDivElement, null, { renderer: "svg" });
    chart.setOption({
      animation: false,
      backgroundColor: "#ffffff",
      grid: {
        left: 85,
        top: 44,
        right: -4,
        bottom: 60.3,
        show: true,
        borderColor: "#000000",
        borderWidth: 1.3,
        backgroundColor: "transparent",
      },
      xAxis: {
        type: "value",
        min: 0,
        max: 540,
        interval: 100,
        axisLine: { show: true, lineStyle: { color: "#000", width: 1.3 } },
        axisTick: { show: true, inside: false, length: 7, lineStyle: { color: "#000", width: 1.3 } },
        axisLabel: {
          margin: 12,
          color: "#000",
          fontFamily: FONT,
          fontSize: 20,
          formatter: (v: number) => (v % 100 === 0 ? String(v) : ""),
        },
        splitLine: { show: true, lineStyle: { color: "#b0b0b0", width: 1.3 } },
      },
      yAxis: {
        type: "value",
        min: 0,
        max: 71.8,
        interval: 10,
        axisLine: { show: true, lineStyle: { color: "#000", width: 1.3 } },
        axisTick: { show: true, inside: false, length: 7, lineStyle: { color: "#000", width: 1.3 } },
        axisLabel: {
          margin: 15,
          color: "#000",
          fontFamily: FONT,
          fontSize: 20,
          formatter: (v: number) => (v > 0 && v % 10 === 0 ? String(v) : ""),
        },
        splitLine: { show: true, lineStyle: { color: "#b0b0b0", width: 1.3 } },
      },
      series: satellites.map((vals, i) => ({
        type: "line",
        name: "sat" + i,
        data: times.map((t, j) => [t, vals[j]]),
        showSymbol: false,
        symbol: "none",
        silent: true,
        clip: true,
        lineStyle: { color: palette[i % 10], width: 2.2 },
        itemStyle: { color: palette[i % 10] },
      })),
      graphic: [
        {
          type: "text",
          x: 595,
          y: 24.4,
          style: { text: titleText, fontFamily: FONT, fontSize: 25.7, fill: "#000", align: "center", verticalAlign: "middle" },
        },
        {
          type: "text",
          x: 593,
          y: 501.4,
          style: { text: xName, fontFamily: FONT, fontSize: 22, fill: "#000", align: "center", verticalAlign: "middle" },
        },
        {
          type: "text",
          x: 26,
          y: 247,
          rotation: Math.PI / 2,
          style: { text: yName, fontFamily: FONT, fontSize: 22, fill: "#000", align: "center", verticalAlign: "middle" },
        },
        {
          type: "rect",
          z: 100,
          shape: { x: 808, y: 46, width: 284, height: 61, r: 6 },
          style: { fill: "rgba(255,255,255,0.85)", stroke: "#555555", lineWidth: 1.5 },
        },
        {
          type: "text",
          z: 101,
          x: 1084,
          y: 63.1,
          style: { text: statLines[0], fontFamily: FONT, fontSize: 22, fill: "#000", align: "right", verticalAlign: "middle" },
        },
        {
          type: "text",
          z: 101,
          x: 1084,
          y: 87.4,
          style: { text: statLines[1], fontFamily: FONT, fontSize: 22, fill: "#000", align: "right", verticalAlign: "middle" },
        },
      ],
    });
    return () => chart.dispose();
  }, []);
  return <div ref={ref} style={{ position: "fixed", left: 0, top: 0, width: 1102, height: 511 }} />;
}
